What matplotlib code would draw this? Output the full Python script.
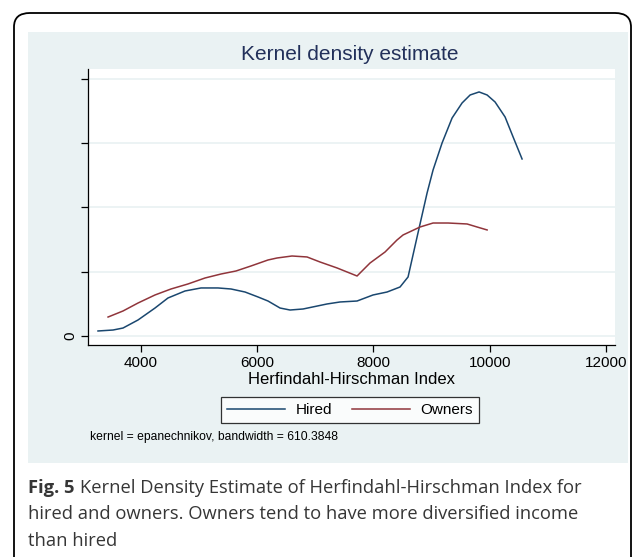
import matplotlib
matplotlib.use("Agg")
import matplotlib.pyplot as plt
from matplotlib.patches import FancyBboxPatch, Rectangle

# kernel density estimates (density in units of 1e-4)
hired_hhi = [3266, 3524, 3696, 3954, 4246, 4469, 4762, 5037, 5329, 5553, 5794, 6017,
             6189, 6396, 6568, 6792, 7204, 7428, 7720, 7995, 8236, 8459, 8597, 8752,
             8924, 9027, 9182, 9354, 9526, 9664, 9818, 9956, 10093, 10265, 10403, 10557]
hired_density = [0.078, 0.093, 0.124, 0.249, 0.435, 0.591, 0.700, 0.747, 0.747, 0.731,
                 0.684, 0.607, 0.544, 0.435, 0.404, 0.420, 0.498, 0.529, 0.544, 0.638,
                 0.684, 0.762, 0.918, 1.540, 2.224, 2.582, 3.002, 3.390, 3.624, 3.748,
                 3.795, 3.748, 3.639, 3.406, 3.095, 2.753]

owners_hhi = [3439, 3696, 3954, 4246, 4521, 4813, 5106, 5381, 5639, 5897, 6189, 6344,
              6602, 6860, 7083, 7376, 7720, 7943, 8201, 8407, 8511, 8803, 9027, 9285,
              9612, 9784, 9956]
owners_density = [0.295, 0.389, 0.513, 0.638, 0.731, 0.809, 0.902, 0.964, 1.011, 1.089,
                  1.182, 1.213, 1.244, 1.229, 1.151, 1.058, 0.933, 1.135, 1.306, 1.493,
                  1.571, 1.695, 1.757, 1.757, 1.742, 1.695, 1.649]

x_ticks = [4000, 6000, 8000, 10000, 12000]
y_ticks = [0, 1, 2, 3, 4]
y_labels = ["0", "", "", "", ""]

W, H = 637, 557
NAVY = "#1a476f"
MAROON = "#90353b"
TITLE = "#22305a"
PANEL = "#eaf2f3"

plt.rcParams["font.family"] = ["Liberation Sans", "DejaVu Sans"]

fig = plt.figure(figsize=(W / 100, H / 100), dpi=100)
fig.patch.set_facecolor("white")


def box(x0, y0, x1, y1):
    # pixel box (top-left origin) -> figure fraction rect
    return x0 / W, 1 - y1 / H, (x1 - x0) / W, (y1 - y0) / H


# outer rounded frame and the stata panel
bx, by, bw, bh = box(14, 13, 631, 575)
fig.patches.append(FancyBboxPatch((bx, by), bw, bh,
                                  boxstyle="round,pad=0,rounding_size=0.025",
                                  transform=fig.transFigure, facecolor="white",
                                  edgecolor="black", lw=1.3, zorder=0))
px, py, pw, ph = box(28, 32, 628, 463)
fig.patches.append(Rectangle((px, py), pw, ph, transform=fig.transFigure,
                             facecolor=PANEL, edgecolor="none", zorder=1))

ax = fig.add_axes(box(88, 69, 615, 345))
ax.set_facecolor("white")
ax.set_zorder(2)

ax.plot(hired_hhi, hired_density, color=NAVY, lw=1.1, label="Hired")
ax.plot(owners_hhi, owners_density, color=MAROON, lw=1.1, label="Owners")

ax.set_xlim(3094, 12155)
ax.set_ylim(-0.14, 4.152)
ax.set_xticks(x_ticks)
ax.set_yticks(y_ticks)
ax.set_yticklabels(y_labels, rotation=90, va="center")
ax.grid(axis="y", color=PANEL, lw=1.3)
ax.set_axisbelow(True)
for s in ["top", "right"]:
    ax.spines[s].set_visible(False)
for s in ["left", "bottom"]:
    ax.spines[s].set_linewidth(0.9)
ax.tick_params(direction="out", length=5, width=0.9, labelsize=11, pad=3)
ax.set_xlabel("Herfindahl-Hirschman Index", fontsize=12, va="center")
ax.xaxis.set_label_coords(0.5, -(380 - 345) / 276)

fig.text(350 / W, 1 - 54 / H, "Kernel density estimate", ha="center", va="center",
         fontsize=15, color=TITLE)

leg = ax.legend(loc="center", bbox_to_anchor=(350 / W, 1 - 410 / H),
                bbox_transform=fig.transFigure, ncol=2, fontsize=11,
                frameon=True, fancybox=False, edgecolor="black",
                handlelength=3.8, columnspacing=1.3, handletextpad=0.7,
                borderpad=0.4)
leg.get_frame().set_linewidth(0.9)

fig.text(90 / W, 1 - 437 / H, "kernel = epanechnikov, bandwidth = 610.3848",
         ha="left", va="center", fontsize=8.7)

# caption under the panel
cap = "#363636"
cap_font = ["Open Sans", "DejaVu Sans"]
fig.text(28 / W, 1 - 488 / H, "Fig. 5", ha="left", va="center", fontsize=13.2,
         fontweight="bold", color=cap, family=cap_font)
fig.text(80 / W, 1 - 488 / H,
         "Kernel Density Estimate of Herfindahl-Hirschman Index for",
         ha="left", va="center", fontsize=13.2, color=cap, family=cap_font)
fig.text(28 / W, 1 - 514 / H,
         "hired and owners. Owners tend to have more diversified income",
         ha="left", va="center", fontsize=13.2, color=cap, family=cap_font)
fig.text(28 / W, 1 - 541 / H, "than hired",
         ha="left", va="center", fontsize=13.2, color=cap, family=cap_font)

fig.savefig("out.png", dpi=100)
